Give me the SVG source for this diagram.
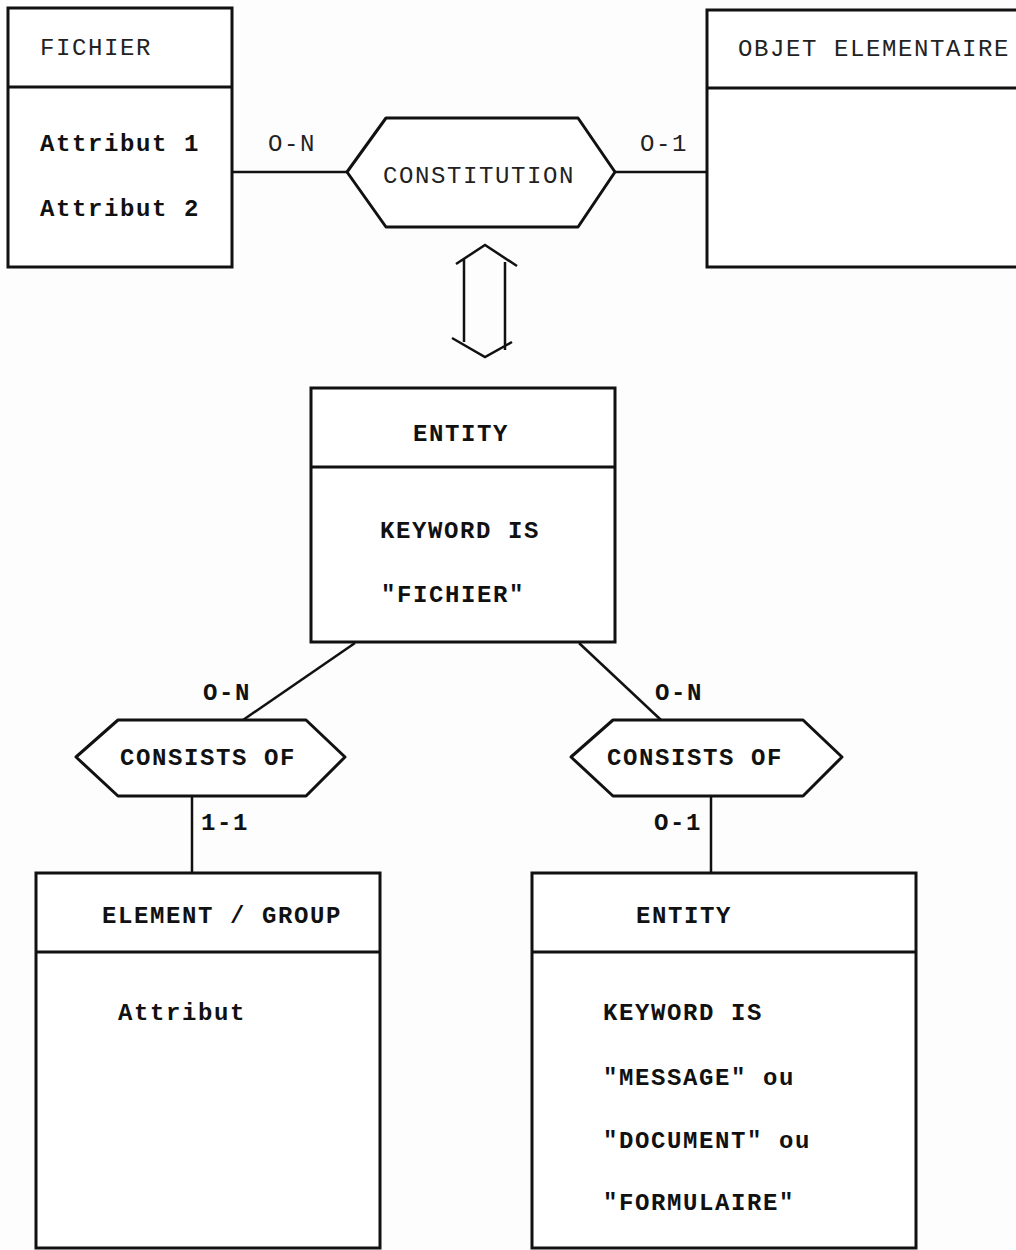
<svg xmlns="http://www.w3.org/2000/svg" width="1016" height="1250" viewBox="0 0 1016 1250">
<style>
.box{fill:#fff;stroke:#111;stroke-width:3}
.div{stroke:#111;stroke-width:3}
.hex{fill:#fff;stroke:#111;stroke-width:3;stroke-linejoin:round}
.ln{stroke:#111;stroke-width:2.5;fill:none}
text{font-family:"Liberation Mono","Courier New",monospace;font-size:24px;fill:#222;letter-spacing:1.6px}
.b{font-weight:bold;fill:#111}
</style>
<rect width="1016" height="1250" fill="#fdfdfd"/>
<g id="connectors">
<line class="ln" x1="232" y1="172" x2="347" y2="172"/>
<line class="ln" x1="615" y1="172" x2="707" y2="172"/>
<line class="ln" x1="355" y1="643" x2="243" y2="720"/>
<line class="ln" x1="579" y1="643" x2="661" y2="720"/>
<line class="ln" x1="192" y1="796" x2="192" y2="874"/>
<line class="ln" x1="711" y1="796" x2="711" y2="874"/>
<text x="268" y="151">O-N</text>
<text x="640" y="151">O-1</text>
<text class="b" x="203" y="700">O-N</text>
<text class="b" x="655" y="700">O-N</text>
<text class="b" x="201" y="830">1-1</text>
<text class="b" x="654" y="830">O-1</text>
</g>
<g id="equivalence">
<path class="ln" d="M456,264 L485,245 L517,266 M464,258 L464,342 M505,262 L505,350 M452,338 L485,357 L512,342"/>
</g>
<g id="fichier">
<rect class="box" x="8" y="8" width="224" height="259"/>
<line class="div" x1="8" y1="87" x2="232" y2="87"/>
<text x="40" y="55">FICHIER</text>
<text class="b" x="40" y="151">Attribut 1</text>
<text class="b" x="40" y="216">Attribut 2</text>
</g>
<g id="constitution">
<polygon class="hex" points="347,172 386,118 578,118 615,172 578,227 386,227"/>
<text x="383" y="183">CONSTITUTION</text>
</g>
<g id="objet-elementaire">
<rect class="box" x="707" y="10" width="330" height="257"/>
<line class="div" x1="707" y1="88" x2="1030" y2="88"/>
<text x="738" y="56">OBJET ELEMENTAIRE</text>
</g>
<g id="entity-fichier">
<rect class="box" x="311" y="388" width="304" height="254"/>
<line class="div" x1="311" y1="467" x2="615" y2="467"/>
<text class="b" x="413" y="441">ENTITY</text>
<text class="b" x="380" y="538">KEYWORD IS</text>
<text class="b" x="381" y="602">"FICHIER"</text>
</g>
<g id="consists-left">
<polygon class="hex" points="76,757 118,720 306,720 345,757 306,796 118,796"/>
<text class="b" x="120" y="765">CONSISTS OF</text>
</g>
<g id="consists-right">
<polygon class="hex" points="571,757 613,720 803,720 842,757 803,796 613,796"/>
<text class="b" x="607" y="765">CONSISTS OF</text>
</g>
<g id="element-group">
<rect class="box" x="36" y="873" width="344" height="375"/>
<line class="div" x1="36" y1="952" x2="380" y2="952"/>
<text class="b" x="102" y="923">ELEMENT / GROUP</text>
<text class="b" x="118" y="1020">Attribut</text>
</g>
<g id="entity-message">
<rect class="box" x="532" y="873" width="384" height="375"/>
<line class="div" x1="532" y1="952" x2="916" y2="952"/>
<text class="b" x="636" y="923">ENTITY</text>
<text class="b" x="603" y="1020">KEYWORD IS</text>
<text class="b" x="603" y="1085">"MESSAGE" ou</text>
<text class="b" x="603" y="1148">"DOCUMENT" ou</text>
<text class="b" x="603" y="1210">"FORMULAIRE"</text>
</g>
</svg>
